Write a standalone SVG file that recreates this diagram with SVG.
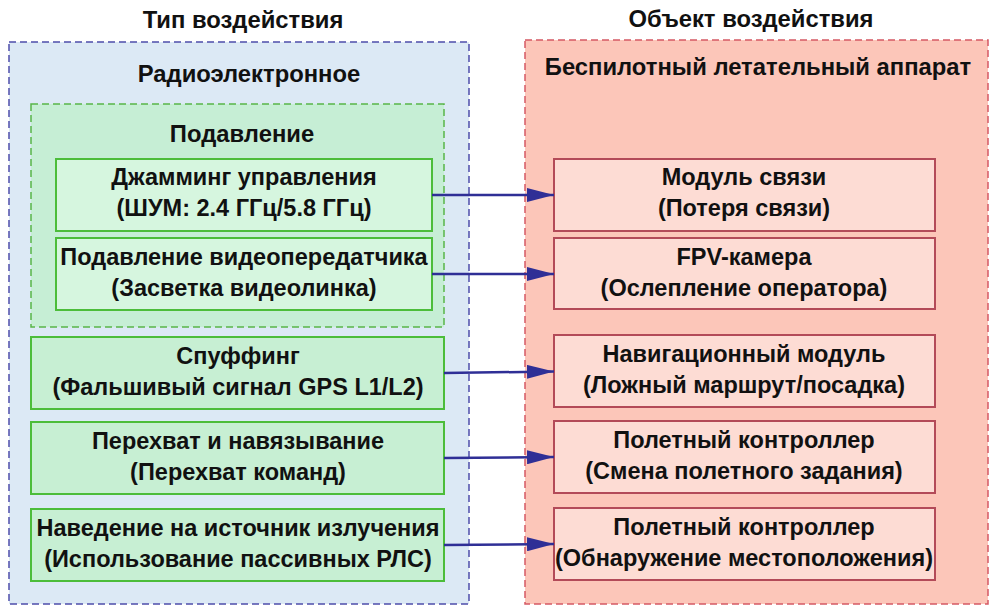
<svg xmlns="http://www.w3.org/2000/svg" width="995" height="615" viewBox="0 0 995 615">
<style>
text{font-family:"Liberation Sans",Arial,sans-serif;font-weight:bold;font-size:23.5px;fill:#111;text-anchor:middle}
.h{font-size:23.8px}
.grpB{fill:#dce9f5;stroke:#4d4dab;stroke-width:1.5;stroke-dasharray:7 4}
.grpG{fill:#c6eed5;stroke:#58b548;stroke-width:1.5;stroke-dasharray:7 4}
.grpR{fill:#fcc6b9;stroke:#d55a64;stroke-width:1.5;stroke-dasharray:7 4}
.nG{fill:#d6f6df;stroke:#4cbd3a;stroke-width:2}
.nG2{fill:#c7efd3;stroke:#4cbd3a;stroke-width:2}
.nR{fill:#fddcd4;stroke:#b34a58;stroke-width:2}
.c{fill:none;stroke:#2f2f96;stroke-width:2.5}
</style>
<defs>
<marker id="ah" viewBox="0 0 27 14" refX="27" refY="7" markerWidth="27" markerHeight="14" markerUnits="userSpaceOnUse" orient="auto">
<path d="M0,0 L27,7 L0,14 Z" fill="#2f2f96"/>
</marker>
</defs>
<rect width="995" height="615" fill="#ffffff"/>
<text class="h" x="243" y="28">Тип воздействия</text>
<text class="h" x="751" y="27">Объект воздействия</text>
<g id="group-radio">
<rect class="grpB" x="9" y="42" width="460" height="562"/>
<text class="h" x="249" y="82">Радиоэлектронное</text>
</g>
<g id="group-uav">
<rect class="grpR" x="525" y="40" width="463" height="564"/>
<text class="h" x="758" y="75">Беспилотный летательный аппарат</text>
</g>
<g id="group-suppression">
<rect class="grpG" x="31" y="104" width="413" height="223"/>
<text class="h" x="242" y="142">Подавление</text>
</g>
<g id="n-jamming">
<rect class="nG" x="56" y="159" width="376" height="72"/>
<text x="244" y="185">Джамминг управления</text>
<text x="244" y="216">(ШУМ: 2.4 ГГц/5.8 ГГц)</text>
</g>
<g id="n-video">
<rect class="nG" x="56" y="238" width="376" height="72"/>
<text x="244" y="265">Подавление видеопередатчика</text>
<text x="244" y="296">(Засветка видеолинка)</text>
</g>
<g id="n-spoof">
<rect class="nG2" x="31" y="337" width="413" height="72"/>
<text x="238" y="364">Спуффинг</text>
<text x="238" y="395">(Фальшивый сигнал GPS L1/L2)</text>
</g>
<g id="n-intercept">
<rect class="nG2" x="31" y="422" width="413" height="72"/>
<text x="238" y="449">Перехват и навязывание</text>
<text x="238" y="480">(Перехват команд)</text>
</g>
<g id="n-homing">
<rect class="nG2" x="31" y="509" width="413" height="72"/>
<text x="238" y="536">Наведение на источник излучения</text>
<text x="238" y="567">(Использование пассивных РЛС)</text>
</g>
<g id="t-comm">
<rect class="nR" x="554" y="159" width="381" height="72"/>
<text x="744" y="185">Модуль связи</text>
<text x="744" y="216">(Потеря связи)</text>
</g>
<g id="t-fpv">
<rect class="nR" x="554" y="238" width="381" height="71"/>
<text x="744" y="265">FPV-камера</text>
<text x="744" y="296">(Ослепление оператора)</text>
</g>
<g id="t-nav">
<rect class="nR" x="554" y="335" width="381" height="72"/>
<text x="744" y="362">Навигационный модуль</text>
<text x="744" y="393">(Ложный маршрут/посадка)</text>
</g>
<g id="t-fc1">
<rect class="nR" x="554" y="421" width="381" height="72"/>
<text x="744" y="448">Полетный контроллер</text>
<text x="744" y="479">(Смена полетного задания)</text>
</g>
<g id="t-fc2">
<rect class="nR" x="554" y="508" width="381" height="72"/>
<text x="744" y="535">Полетный контроллер</text>
<text x="744" y="566">(Обнаружение местоположения)</text>
</g>
<g id="connectors">
<line class="c" x1="432" y1="195" x2="554" y2="195" marker-end="url(#ah)"/>
<line class="c" x1="432" y1="274" x2="554" y2="274" marker-end="url(#ah)"/>
<line class="c" x1="444" y1="373" x2="554" y2="371.5" marker-end="url(#ah)"/>
<line class="c" x1="444" y1="458" x2="554" y2="457" marker-end="url(#ah)"/>
<line class="c" x1="444" y1="545" x2="554" y2="544" marker-end="url(#ah)"/>
</g>
</svg>
